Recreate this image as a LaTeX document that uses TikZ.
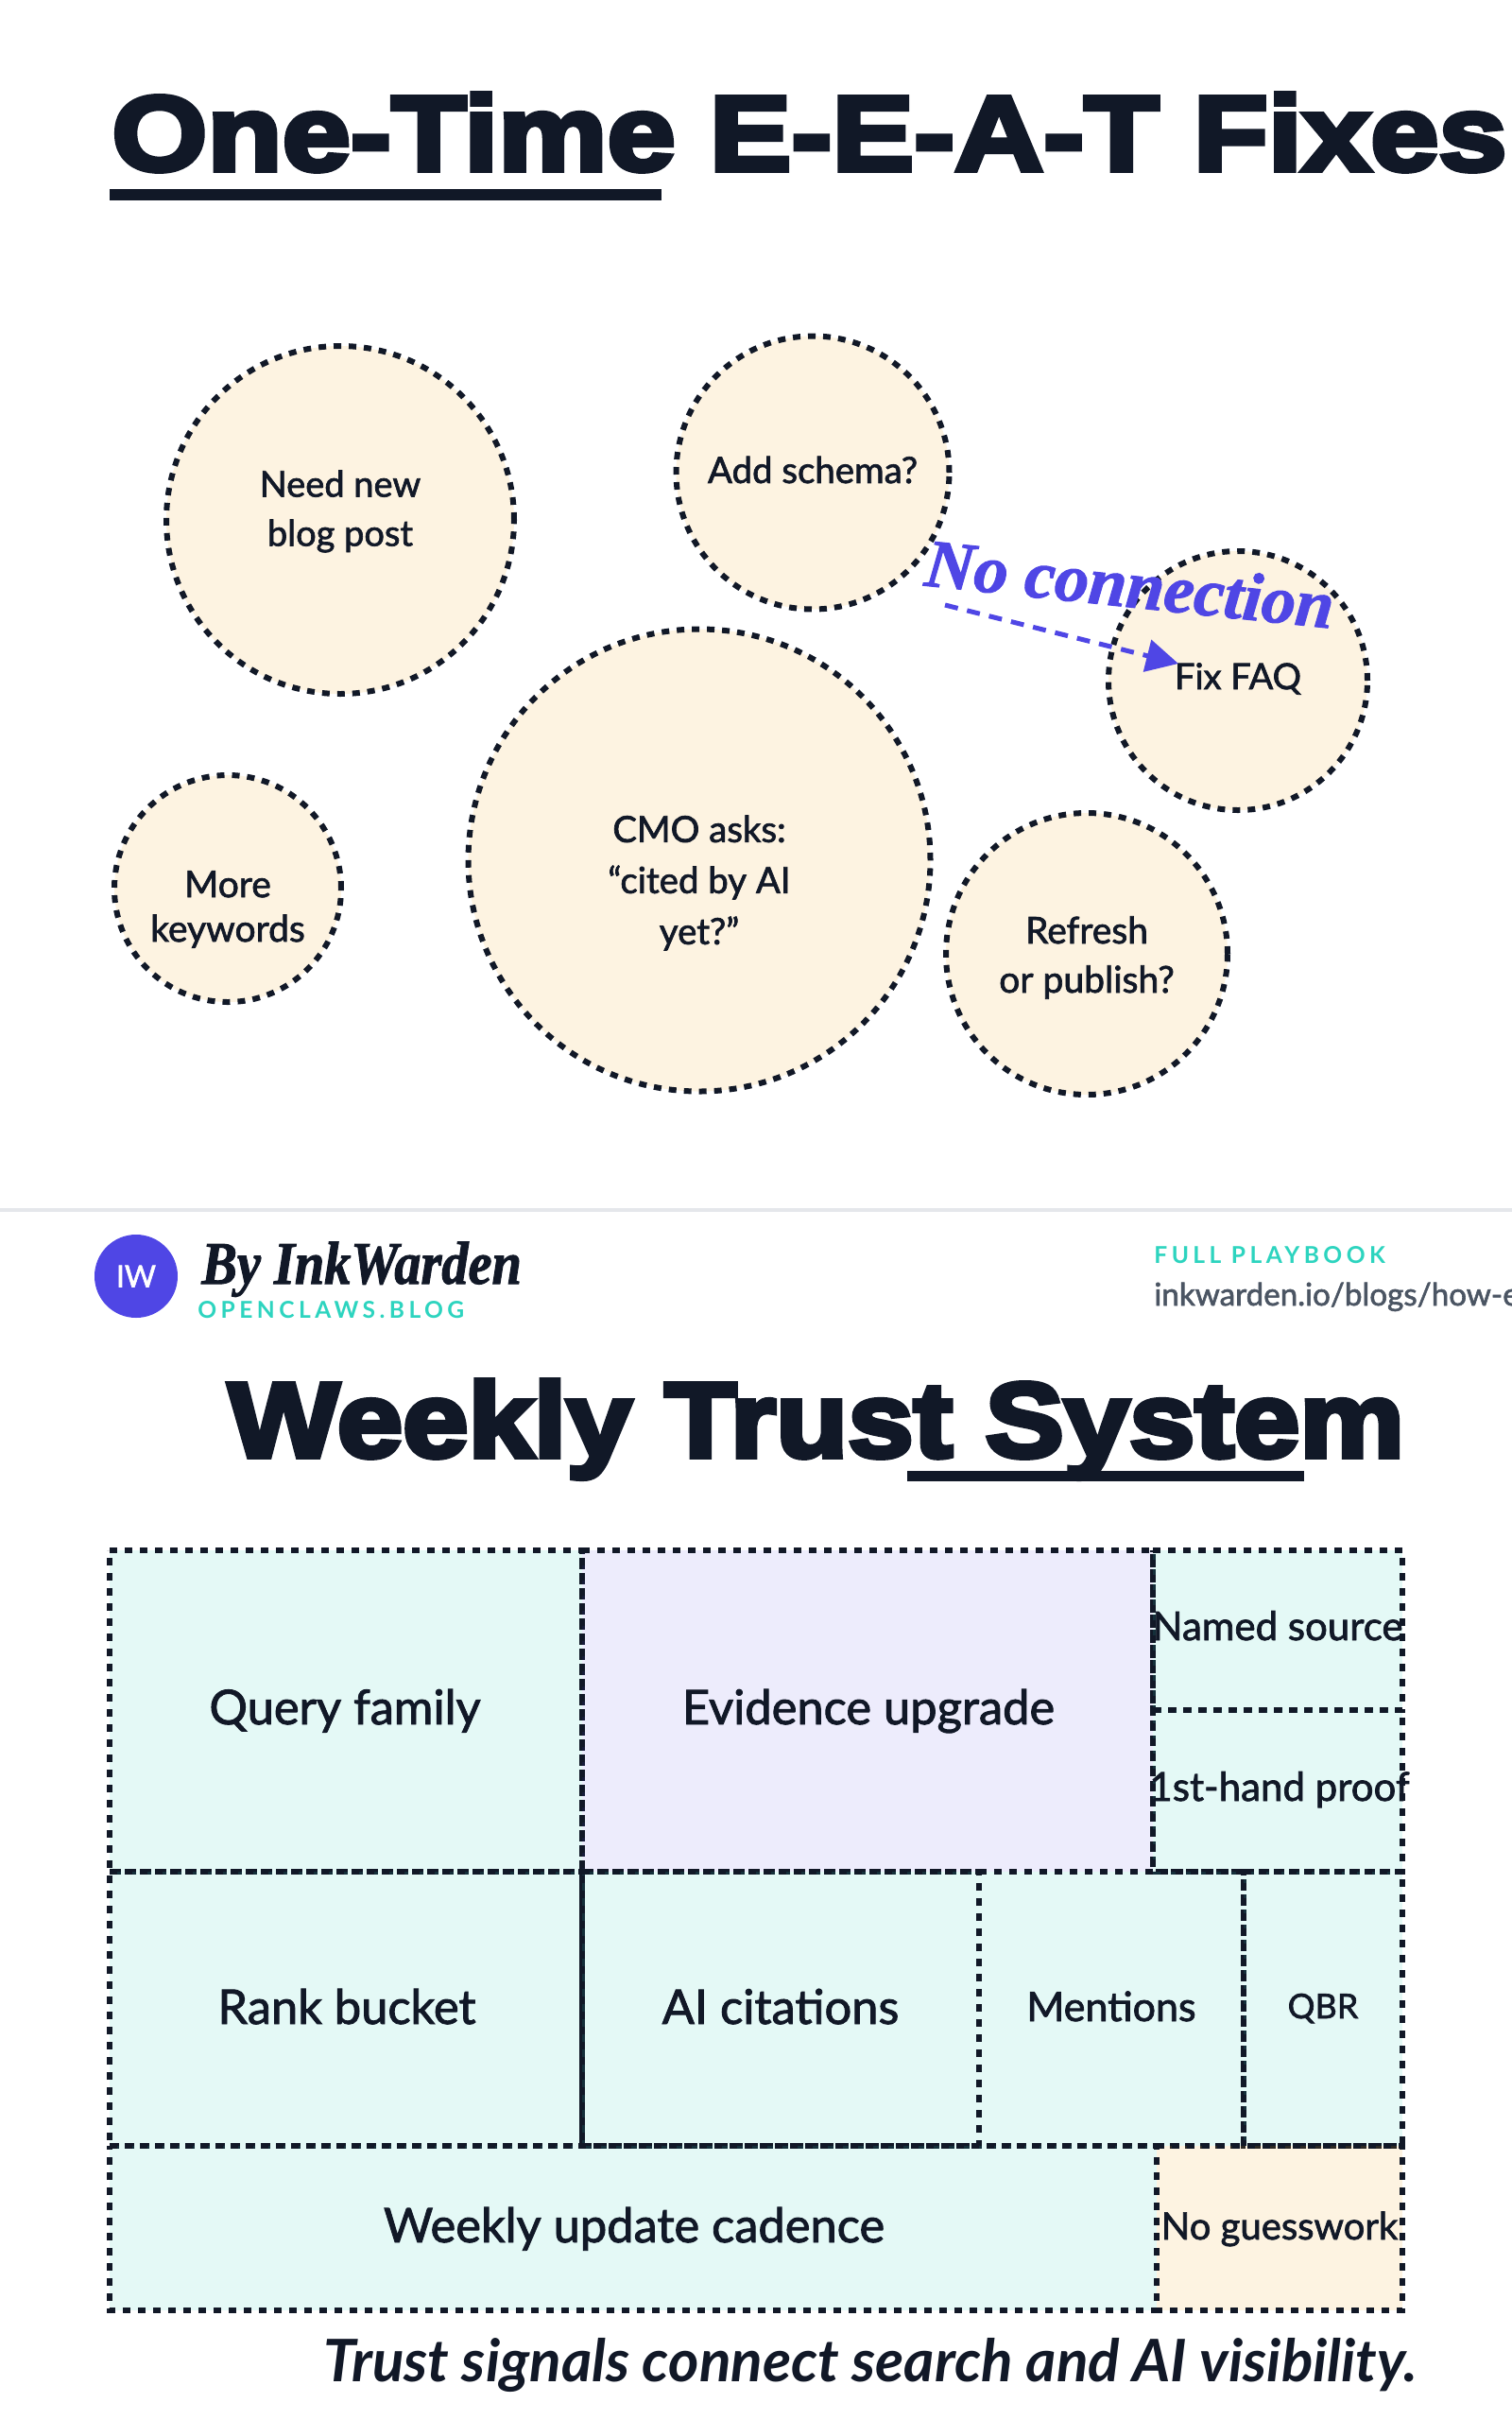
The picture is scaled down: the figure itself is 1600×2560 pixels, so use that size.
\documentclass[tikz,border=0pt]{standalone}
\usepackage{fontspec}
\usepackage{xcolor}
\setmainfont{Lato}[UprightFeatures={FakeBold=1.8}]
\newfontfamily\titlefont{Liberation Sans Bold}[FakeBold=5,FakeStretch=1.159]
\newfontfamily\weeklyfont{Liberation Sans Bold}[FakeBold=5,FakeStretch=1.113]
\newfontfamily\handfont{Liberation Serif}[BoldItalicFeatures={FakeBold=1.5}]
\newfontfamily\bylinefont{Liberation Serif}[BoldItalicFeatures={FakeBold=1.5,FakeStretch=0.88}]
\usetikzlibrary{arrows.meta}
\definecolor{ink}{RGB}{17,24,39}
\definecolor{slate}{RGB}{75,85,99}
\definecolor{indigo}{RGB}{79,70,229}
\definecolor{teal}{RGB}{45,212,191}
\definecolor{amber}{RGB}{245,158,11}
\definecolor{rule}{RGB}{229,231,235}
\newcommand{\fs}[1]{\fontsize{#1}{#1}\selectfont}
\newcommand{\fsl}[2]{\fontsize{#1}{#2}\selectfont}
\tikzset{
    bubble/.style={circle, draw=ink, fill=amber, fill opacity=0.12, draw opacity=1, line width=3pt, dash pattern=on 4pt off 4pt, inner sep=0pt},
    bubbletext/.style={text=ink, align=center, inner sep=0pt},
    celltext/.style={text=ink, anchor=base, inner sep=0pt},
    headline/.style={text=ink, anchor=base west, inner sep=0pt},
    spaced/.style={text=teal, anchor=base west, inner sep=0pt, font=\bfseries\fs{12.3}\addfontfeature{LetterSpace=18}}
}
\begin{document}
\begin{tikzpicture}[x=0.5pt, y=-0.5pt]
    \useasboundingbox (0,0) rectangle (1600,2560);
    \fill[white] (0,0) rectangle (1600,2560);

    % Upper panel title
    \node[headline, font=\titlefont\fs{56}] (onetime) at (118,180) {One-Time E-E-A-T Fixes};
    \fill[ink] (116,200) rectangle (700,212);

    % Bubbles
    \foreach \nm/\cx/\cy/\rr in {needpost/360/550/184, addschema/860/500/144.5, cmoasks/740/910/244.5, fixfaq/1310/720/137, keywords/241/940/120, refresh/1150/1009/149} {
        \node[bubble, minimum size=\rr pt] (\nm) at (\cx,\cy) {};
    }
    \node[bubbletext, font=\fsl{19}{26}] (needtext) at (360,541) {Need new\\blog post};
    \node[bubbletext, font=\fs{19.2}] (schematext) at (860,497) {Add schema?};
    \node[bubbletext, font=\fsl{19.2}{27}] (cmotext) at (740,934) {CMO asks:\\“cited by AI\\yet?”};
    \node[bubbletext, font=\fs{19}] (faqtext) at (1310,718) {Fix FAQ};
    \node[bubbletext, font=\fsl{19.5}{23.5}] (keytext) at (241,962) {More\\keywords};
    \node[bubbletext, font=\fsl{19.5}{26}] (refreshtext) at (1150,1013) {Refresh\\or publish?};

    % Note with its arrow
    \node[text=indigo, anchor=base, inner sep=0pt, rotate=-6, font=\handfont\bfseries\itshape\fs{36}] (nolink) at (1193,642) {No connection};
    \coordinate (linkstart) at (1000,640);
    \coordinate (linkend) at (1247,702);
    \draw[indigo, line width=2.5pt, dash pattern=on 7pt off 5pt, -{Triangle[length=17pt, width=17pt]}] (linkstart) -- (linkend);

    % Divider and byline
    \fill[rule] (0,1278) rectangle (1600,1282);
    \node[circle, fill=indigo, minimum size=44pt, inner sep=0pt, text=white, font=\fs{16}] (avatar) at (144,1350) {IW};
    \node[text=ink, anchor=base west, inner sep=0pt, font=\bylinefont\bfseries\itshape\fs{32}] (byline) at (213,1358) {By InkWarden};
    \node[spaced] (blogname) at (209,1394) {OPENCLAWS.BLOG};
    \node[spaced] (playbook) at (1221,1336) {FULL PLAYBOOK};
    \node[text=slate, anchor=base west, inner sep=0pt, font=\fs{16.6}] (bloglink) at (1221,1381) {inkwarden.io/blogs/how-e};

    % Lower panel title
    \node[headline, font=\weeklyfont\fs{56}] (weekly) at (241,1541) {Weekly Trust System};
    \fill[ink] (960,1556) rectangle (1380,1567);

    % Cells, clockwise from the top left
    \foreach \xa/\ya/\xb/\yb/\tint/\op in {
        116/1640/616/1980/teal/0.125, 616/1640/1220/1980/indigo/0.1,
        1220/1640/1484/1809/teal/0.125, 1220/1809/1484/1980/teal/0.125,
        116/1980/616/2270/teal/0.125, 616/1980/1036/2270/teal/0.125,
        1036/1980/1316/2270/teal/0.125, 1316/1980/1484/2270/teal/0.125,
        116/2270/1224/2444/teal/0.125, 1224/2270/1484/2444/amber/0.12} {
        \draw[draw=ink, fill=\tint, fill opacity=\op, line width=3pt, dash pattern=on 4pt off 4pt]
            (\xa,\ya) -- (\xb,\ya) -- (\xb,\yb) -- (\xa,\yb) -- cycle;
    }
    \node[celltext, font=\fs{25.3}] (queryfamily) at (365,1824) {Query family};
    \node[celltext, font=\fs{25.3}] (evidence) at (919,1824) {Evidence upgrade};
    \node[celltext, font=\fs{21}] (namedsource) at (1352,1735) {Named source};
    \node[celltext, font=\fs{21}] (firsthand) at (1354,1905) {1st-hand proof};
    \node[celltext, font=\fs{25.3}] (rankbucket) at (367,2141) {Rank bucket};
    \node[celltext, font=\fs{25.3}] (citations) at (826,2141) {AI citations};
    \node[celltext, font=\fs{21.5}] (mentions) at (1176,2138) {Mentions};
    \node[celltext, font=\fs{18}] (qbr) at (1400,2135) {QBR};
    \node[celltext, font=\fs{25.3}] (cadence) at (671,2372) {Weekly update cadence};
    \node[celltext, font=\fs{20}] (guesswork) at (1354,2369) {No guesswork};

    % Caption
    \node[text=ink, anchor=base east, inner sep=0pt, font=\bfseries\itshape\fs{31}] (caption) at (1500,2519) {Trust signals connect search and AI visibility.};
\end{tikzpicture}
\end{document}
